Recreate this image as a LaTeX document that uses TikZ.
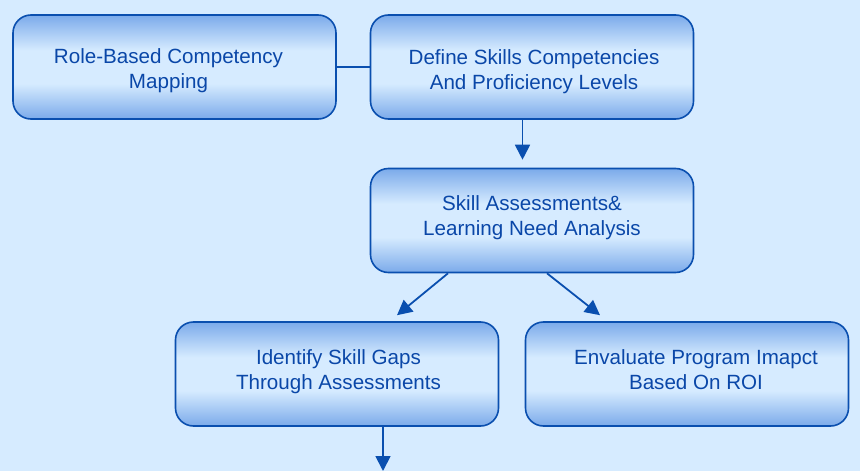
\documentclass[tikz,border=0pt]{standalone}
\usepackage{fontspec}
\setmainfont{Liberation Sans}
\usetikzlibrary{arrows.meta,calc}
\definecolor{bgc}{HTML}{D6EBFF}
\definecolor{edgec}{HTML}{0A4FAF}
\definecolor{txtc}{HTML}{0A47A8}
\pgfdeclareverticalshading{boxshade}{100bp}{%
  rgb(0bp)=(0.482,0.667,0.918);
  rgb(25bp)=(0.482,0.667,0.918);
  rgb(42bp)=(0.839,0.922,1);
  rgb(58bp)=(0.839,0.922,1);
  rgb(75bp)=(0.482,0.667,0.918);
  rgb(100bp)=(0.482,0.667,0.918)}
\begin{document}
\begin{tikzpicture}[x=1pt,y=-1pt,
  box/.style={draw=edgec, line width=1.6pt, rounded corners=18pt,
    shading=boxshade,
    minimum width=323pt, minimum height=104pt, inner sep=0pt},
  lbl/.style={anchor=base, inner sep=0pt, text=txtc,
    font=\fontsize{20.6}{25}\selectfont},
  link/.style={draw=edgec, line width=1.8pt},
  arr/.style={link, -{Triangle[length=15pt,width=15pt]}}]
\fill[bgc] (0,0) rectangle (860,471);
\useasboundingbox (0,0) rectangle (860,471);
\node[box] (b1) at (174.5,67) {};
\node[box] (b2) at (532,67) {};
\node[box] (b3) at (532,220.5) {};
\node[box] (b4) at (337,374) {};
\node[box] (b5) at (687,374) {};
\node[lbl] (t1) at (168.5,63) {\begin{tabular}[t]{@{}c@{}}Role-Based Competency\\Mapping\end{tabular}};
\node[lbl] (t2) at (534,64) {\begin{tabular}[t]{@{}c@{}}Define Skills Competencies\\And Proficiency Levels\end{tabular}};
\node[lbl] (t3) at (532,210.5) {\begin{tabular}[t]{@{}c@{}}Skill Assessments\&\\Learning Need Analysis\end{tabular}};
\node[lbl] (t4) at (338.5,364.3) {\begin{tabular}[t]{@{}c@{}}Identify Skill Gaps\\Through Assessments\end{tabular}};
\node[lbl] (t5) at (696,364) {\begin{tabular}[t]{@{}c@{}}Envaluate Program Imapct\\Based On ROI\end{tabular}};
\coordinate (bend) at (383,471);
\draw[link] (b1.east) -- (b2.west);
\draw[arr] ($(b2.south)+(-9.5,0)$) -- ($(b3.north)+(-9.5,-8)$);
\draw[arr] ($(b3.south)+(-84,0)$) -- ($(b4.north)+(60,-6)$);
\draw[arr] ($(b3.south)+(15,0)$) -- ($(b5.north)+(-87,-6)$);
\draw[arr] ($(b4.south)+(46,0)$) -- (bend);
\end{tikzpicture}
\end{document}
